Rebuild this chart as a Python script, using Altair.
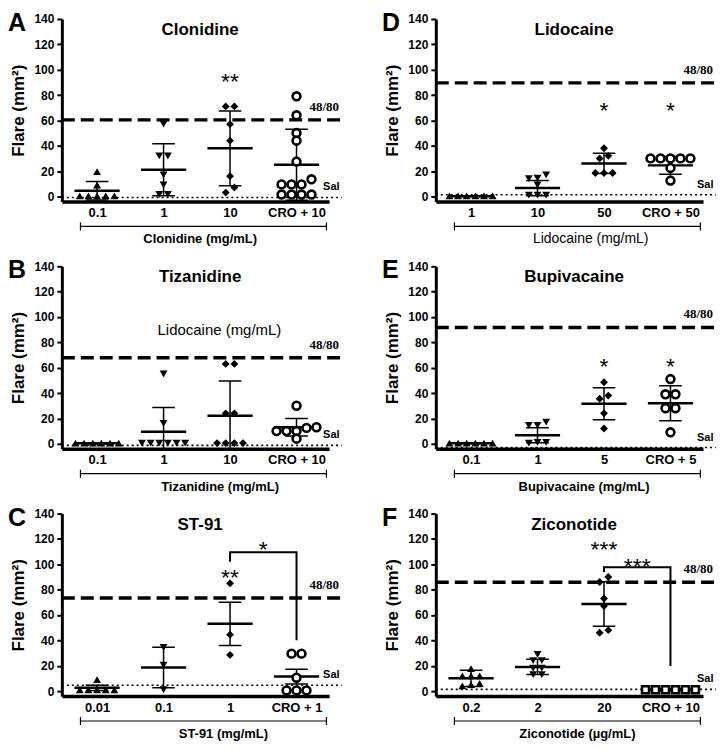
import altair as alt
import numpy as np
import pandas as pd

FONT = "Liberation Sans"
SERIF = "Liberation Serif"

# ---------------- data ----------------
# Panel A – Clonidine
A_title = "Clonidine"
A_xtitle = "Clonidine (mg/mL)"
A_cats = ["0.1", "1", "10", "CRO + 10"]
A_g0 = [19.5, 9, 0.5, 0.5, 0.5, 0.5, 0.5]
A_g1 = [57, 32, 32, 17, 9, 1.5, 1.5]
A_g2 = [71, 71, 57, 44, 16, 3, 7]
A_g3 = [79, 64, 50, 44, 27.5, 13.5, 9.5, 9.5, 9.5, 1.5, 1.5, 1.5, 1.5]
A_mean = [4.5, 21, 38, 25]
A_sd = [7.3, 20.5, 29.5, 28]
A_ref = 60.4
A_sal = -0.8
A_star_x = [2]
A_star_txt = ["**"]
A_star_y = [94]

# Panel B – Tizanidine
B_title = "Tizanidine"
B_xtitle = "Tizanidine (mg/mL)"
B_cats = ["0.1", "1", "10", "CRO + 10"]
B_g0 = [0.5, 0.5, 0.5, 0.5, 0.5, 0.5]
B_g1 = [55, 16, 0.5, 0.5, 0.5, 0.5, 0.5, 0.5]
B_g2 = [63, 63, 24, 24, 0.5, 0.5, 0.5, 0.5]
B_g3 = [30, 13, 10, 10, 10, 12.5, 4]
B_mean = [0.3, 9.5, 22, 13]
B_sd = [0.5, 19, 27.5, 7]
B_ref = 67.8
B_sal = -1.3
B_star_x = []
B_star_txt = []
B_star_y = []
B_extra_txt = ["Lidocaine (mg/mL)"]
B_extra_x = [1.84]
B_extra_y = [89.8]

# Panel C – ST-91
C_title = "ST-91"
C_xtitle = "ST-91 (mg/mL)"
C_cats = ["0.01", "0.1", "1", "CRO + 1"]
C_g0 = [9, 1, 1, 1, 1, 1]
C_g1 = [34.5, 20.5, 1]
C_g2 = [85, 44.5, 28.5]
C_g3 = [29.5, 29.5, 10.5, 0.5, 0.5, 0.5]
C_mean = [2.5, 18.6, 53, 11.4]
C_sd = [2, 16, 17, 5.8]
C_ref = 73.5
C_sal = 4.5
C_star_x = [2, 2.5]
C_star_txt = ["**", "*"]
C_star_y = [93, 115]
C_br_x = [2, 2, 3, 3]
C_br_y = [102, 109.5, 109.5, 40]

# Panel D – Lidocaine
D_title = "Lidocaine"
D_xtitle = "Lidocaine (mg/mL)"
D_cats = ["1", "10", "50", "CRO + 50"]
D_g0 = [0.5, 0.5, 0.5, 0.5, 0.5, 0.5]
D_g1 = [14.5, 14, 17, 9, 1, 1, 1]
D_g2 = [38, 32, 30, 18.5, 18.5, 18.5]
D_g3 = [30, 30, 30, 30, 30, 22.5, 12.5]
D_mean = [0.2, 6.6, 26, 24.5]
D_sd = [0.3, 6, 8, 7]
D_ref = 89.6
D_sal = 1.3
D_star_x = [2, 3]
D_star_txt = ["*", "*"]
D_star_y = [71.6, 71.6]

# Panel E – Bupivacaine
E_title = "Bupivacaine"
E_xtitle = "Bupivacaine (mg/mL)"
E_cats = ["0.1", "1", "5", "CRO + 5"]
E_g0 = [0.5, 0.5, 0.5, 0.5, 0.5, 0.5]
E_g1 = [14.5, 14.5, 17, 1, 0.5, 1]
E_g2 = [48.5, 35.5, 38, 24, 12]
E_g3 = [51, 39, 39, 28, 28, 9]
E_mean = [0.3, 6.7, 31.5, 32]
E_sd = [0.4, 6, 12.6, 13.8]
E_ref = 91.8
E_sal = -3
E_star_x = [2, 3]
E_star_txt = ["*", "*"]
E_star_y = [64.7, 64.7]

# Panel F – Ziconotide
F_title = "Ziconotide"
F_xtitle = "Ziconotide (µg/mL)"
F_cats = ["0.2", "2", "20", "CRO + 10"]
F_g0 = [17.7, 11.9, 11.9, 11.9, 6, 5, 4]
F_g1 = [29, 24, 24, 18, 18, 13, 13]
F_g2 = [90, 86, 73, 67, 46, 48]
F_g3 = [1, 1, 1, 1, 1, 1]
F_mean = [10, 19, 68.7, 1]
F_sd = [6.4, 6, 17.5, 0.8]
F_ref = 85.8
F_sal = 1.3
F_star_x = [2, 2.5]
F_star_txt = ["***", "***"]
F_star_y = [115.4, 101.7]
F_br_x = [2, 2, 3, 3]
F_br_y = [94, 97.7, 97.7, 19.8]

# ---------------- layout / style ----------------
W = 268
H = 183
XDOM = [-0.53, 3.49]
XR = 3.68
YDOM = [-4, 140]
CAP = 0.17
MEANW = 0.34


def jitter(vals, spacing, tol=4.5):
    vals = np.asarray(vals, dtype=float)
    order = np.argsort(vals, kind="stable")
    offs = np.zeros(len(vals))
    clusters, cur = [], []
    for i in order:
        if cur and vals[i] - vals[cur[0]] > tol:
            clusters.append(cur)
            cur = []
        cur.append(i)
    if cur:
        clusters.append(cur)
    for c in clusters:
        k = len(c)
        for j, i in enumerate(c):
            offs[i] = (j - (k - 1) / 2) * spacing
    return offs


def panel(letter, title, xtitle, xtitle_bold, cats, groups, means, sds, ref, sal,
          star_x, star_txt, star_y, open_shape="circle", open_size=62,
          br_x=None, br_y=None, extra=None, xtitle_at=1.6):
    xs = alt.Scale(domain=XDOM, nice=False, zero=False)
    ys = alt.Scale(domain=YDOM, nice=False, zero=False)
    expr = "[" + ",".join("'" + c + "'" for c in cats) + "][datum.value]"
    xax = alt.Axis(values=[0, 1, 2, 3], labelExpr=expr, ticks=False, grid=False,
                   title=None, domainWidth=3.5, domainColor="black", labelFont=FONT,
                   labelFontSize=13, labelFontWeight="bold", labelColor="black",
                   labelPadding=5, labelFlush=False)
    yax = alt.Axis(values=list(range(0, 141, 20)), grid=False, title="Flare (mm²)",
                   titleFont=FONT, titleFontSize=17, titleFontWeight="bold",
                   titleColor="black", titlePadding=6, labelFont=FONT,
                   labelFontSize=12, labelFontWeight="bold", labelColor="black",
                   tickSize=5, tickWidth=2, tickColor="black", domainWidth=3,
                   domainColor="black", labelPadding=3)

    def X(f):
        return alt.X(f, type="quantitative", scale=xs, axis=xax)

    def Y(f):
        return alt.Y(f, type="quantitative", scale=ys, axis=yax)

    rows = []
    for gi, vals in enumerate(groups):
        offs = jitter(vals, 0.15 if gi == 3 else 0.13)
        for v, o in zip(vals, offs):
            rows.append({"g": str(gi), "x": gi + o, "y": v})
    pts = pd.DataFrame(rows)
    summ = pd.DataFrame({"g": [0, 1, 2, 3], "m": means, "sd": sds})
    summ["lo"] = summ["m"] - summ["sd"]
    summ["hi"] = summ["m"] + summ["sd"]
    summ["cl"] = summ["g"] - CAP
    summ["cr"] = summ["g"] + CAP
    summ["ml"] = summ["g"] - MEANW
    summ["mr"] = summ["g"] + MEANW

    layers = []
    layers.append(alt.Chart(pd.DataFrame({"x": [XDOM[0]], "x2": [XR], "y": [ref]}))
                  .mark_rule(strokeDash=[13, 6], strokeWidth=3.5, color="black")
                  .encode(x=X("x"), x2="x2", y=Y("y")))
    layers.append(alt.Chart(pd.DataFrame({"x": [XDOM[0]], "x2": [XR], "y": [sal]}))
                  .mark_rule(strokeDash=[2, 3], strokeWidth=1.6, color="black")
                  .encode(x=X("x"), x2="x2", y=Y("y")))
    base = alt.Chart(summ)
    layers.append(base.mark_rule(strokeWidth=1.5, color="black", clip=True)
                  .encode(x=X("g"), y=Y("lo"), y2="hi"))
    layers.append(base.mark_rule(strokeWidth=1.5, color="black", clip=True)
                  .encode(x=X("cl"), x2="cr", y=Y("hi")))
    layers.append(base.mark_rule(strokeWidth=1.5, color="black", clip=True)
                  .encode(x=X("cl"), x2="cr", y=Y("lo")))
    layers.append(base.mark_rule(strokeWidth=2.5, color="black", clip=True)
                  .encode(x=X("ml"), x2="mr", y=Y("m")))
    layers.append(alt.Chart(pts[pts.g != "3"])
                  .mark_point(filled=True, size=62, color="black", opacity=1)
                  .encode(x=X("x"), y=Y("y"),
                          shape=alt.Shape("g:N", scale=alt.Scale(
                              domain=["0", "1", "2"],
                              range=["triangle-up", "triangle-down", "diamond"]),
                              legend=None)))
    layers.append(alt.Chart(pts[pts.g == "3"])
                  .mark_point(shape=open_shape, size=open_size, strokeWidth=2.6,
                              color="black", fill="white", opacity=1)
                  .encode(x=X("x"), y=Y("y")))
    # significance bracket
    if br_x is not None:
        layers.append(alt.Chart(pd.DataFrame({"x": br_x, "y": br_y, "o": range(len(br_x))}))
                      .mark_line(strokeWidth=2, color="black")
                      .encode(x=X("x"), y=Y("y"), order="o:Q"))
    # stars
    if star_x:
        layers.append(alt.Chart(pd.DataFrame({"x": star_x, "y": star_y, "t": star_txt}))
                      .mark_text(font=FONT, fontSize=23, baseline="alphabetic", dy=12,
                                 align="center", color="black")
                      .encode(x=X("x"), y=Y("y"), text="t:N"))
    # 48/80 and Sal labels
    layers.append(alt.Chart(pd.DataFrame({"x": [3.64], "y": [ref], "t": ["48/80"]}))
                  .mark_text(font=SERIF, fontSize=13, fontWeight="bold", align="right",
                             baseline="middle", dy=-13, color="black")
                  .encode(x=X("x"), y=Y("y"), text="t:N"))
    layers.append(alt.Chart(pd.DataFrame({"x": [3.4], "y": [sal], "t": ["Sal"]}))
                  .mark_text(font=FONT, fontSize=11, fontWeight="bold", align="left",
                             baseline="middle", dy=-10, color="black")
                  .encode(x=X("x"), y=Y("y"), text="t:N"))
    if extra is not None:
        ex_t, ex_x, ex_y = extra
        layers.append(alt.Chart(pd.DataFrame({"x": ex_x, "y": ex_y, "t": ex_t}))
                      .mark_text(font=FONT, fontSize=15, align="center",
                                 baseline="middle", color="black")
                      .encode(x=X("x"), y=Y("y"), text="t:N"))
    # panel title and letter
    layers.append(alt.Chart(pd.DataFrame({"x": [1.55], "t": [title]}))
                  .mark_text(font=FONT, fontSize=17, fontWeight="bold", align="center",
                             baseline="middle", color="black")
                  .encode(x=X("x"), y=alt.value(11), text="t:N"))
    layers.append(alt.Chart(pd.DataFrame({"t": [letter]}))
                  .mark_text(font=FONT, fontSize=25, fontWeight="bold", align="left",
                             baseline="top", color="black")
                  .encode(x=alt.value(-54), y=alt.value(-8), text="t:N"))
    # x grouping bracket and title
    layers.append(alt.Chart(pd.DataFrame({"x": [-0.25], "x2": [3.45]}))
                  .mark_rule(strokeWidth=1.2, color="black")
                  .encode(x=X("x"), x2="x2", y=alt.value(H + 25)))
    layers.append(alt.Chart(pd.DataFrame({"x": [-0.25, 3.45]}))
                  .mark_rule(strokeWidth=1.2, color="black")
                  .encode(x=X("x"), y=alt.value(H + 21), y2=alt.value(H + 29)))
    layers.append(alt.Chart(pd.DataFrame({"x": [xtitle_at], "t": [xtitle]}))
                  .mark_text(font=FONT, fontSize=14 if not xtitle_bold else 13,
                             fontWeight="bold" if xtitle_bold else "normal",
                             align="center", baseline="middle", color="black")
                  .encode(x=X("x"), y=alt.value(H + 38), text="t:N"))
    return alt.layer(*layers).properties(width=W, height=H)


pA = panel("A", A_title, A_xtitle, True, A_cats, [A_g0, A_g1, A_g2, A_g3], A_mean, A_sd,
           A_ref, A_sal, A_star_x, A_star_txt, A_star_y, xtitle_at=1.55)
pB = panel("B", B_title, B_xtitle, True, B_cats, [B_g0, B_g1, B_g2, B_g3], B_mean, B_sd,
           B_ref, B_sal, B_star_x, B_star_txt, B_star_y,
           extra=(B_extra_txt, B_extra_x, B_extra_y), xtitle_at=1.85)
pC = panel("C", C_title, C_xtitle, True, C_cats, [C_g0, C_g1, C_g2, C_g3], C_mean, C_sd,
           C_ref, C_sal, C_star_x, C_star_txt, C_star_y, br_x=C_br_x, br_y=C_br_y,
           xtitle_at=1.9)
pD = panel("D", D_title, D_xtitle, False, D_cats, [D_g0, D_g1, D_g2, D_g3], D_mean, D_sd,
           D_ref, D_sal, D_star_x, D_star_txt, D_star_y, xtitle_at=1.8)
pE = panel("E", E_title, E_xtitle, True, E_cats, [E_g0, E_g1, E_g2, E_g3], E_mean, E_sd,
           E_ref, E_sal, E_star_x, E_star_txt, E_star_y, xtitle_at=1.7)
pF = panel("F", F_title, F_xtitle, True, F_cats, [F_g0, F_g1, F_g2, F_g3], F_mean, F_sd,
           F_ref, F_sal, F_star_x, F_star_txt, F_star_y, open_shape="square",
           open_size=50, br_x=F_br_x, br_y=F_br_y, xtitle_at=1.6)

chart = alt.vconcat(
    alt.hconcat(pA, pD, spacing=38),
    alt.hconcat(pB, pE, spacing=38),
    alt.hconcat(pC, pF, spacing=38),
    spacing=12,
).properties(padding={"top": 2, "left": 0, "right": 0, "bottom": 0},
             background="white").configure_view(stroke=None)

chart.save("out.html", embed_options={"renderer": "svg", "actions": False})
